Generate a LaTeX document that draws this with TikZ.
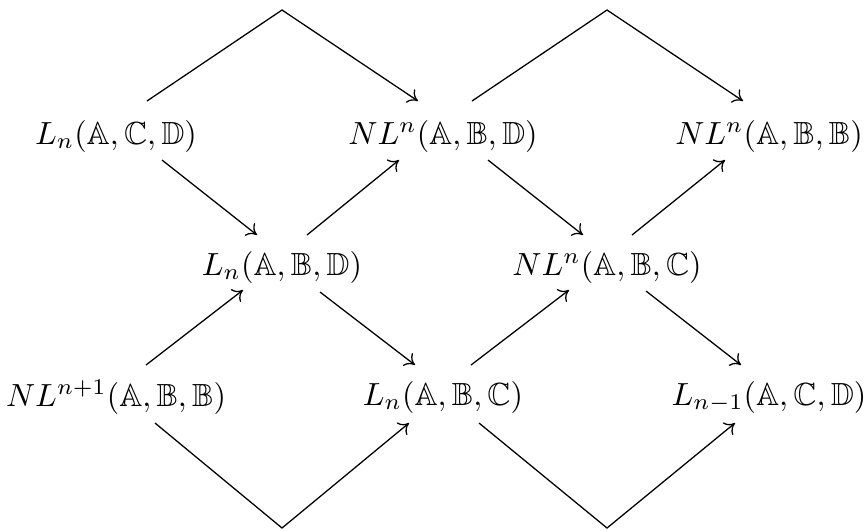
\documentclass[tikz,border=0pt]{standalone}
\usepackage{amssymb}
\usetikzlibrary{arrows.meta,calc}
\begin{document}
\begin{tikzpicture}[x=0.3125pt,y=-0.3125pt,
  obj/.style={inner sep=3pt},
  link/.style={line width=0.4pt,-{Computer Modern Rightarrow[length=3pt,width=5pt]}}]
\useasboundingbox (0,0) rectangle (866,530);
\node[obj] (a) at (116,136) {$L_n(\mathbb{A},\mathbb{C},\mathbb{D})$};
\node[obj] (b) at (443,136) {$NL^n(\mathbb{A},\mathbb{B},\mathbb{D})$};
\node[obj] (c) at (769,136) {$NL^n(\mathbb{A},\mathbb{B},\mathbb{B})$};
\node[obj] (d) at (282,267) {$L_n(\mathbb{A},\mathbb{B},\mathbb{D})$};
\node[obj] (e) at (607,267) {$NL^n(\mathbb{A},\mathbb{B},\mathbb{C})$};
\node[obj] (f) at (116,397) {$NL^{n+1}(\mathbb{A},\mathbb{B},\mathbb{B})$};
\node[obj] (g) at (443,397) {$L_n(\mathbb{A},\mathbb{B},\mathbb{C})$};
\node[obj] (h) at (769,397) {$L_{n-1}(\mathbb{A},\mathbb{C},\mathbb{D})$};
\coordinate (t1) at (282,10);
\coordinate (t2) at (607,10);
\coordinate (u1) at (282,528);
\coordinate (u2) at (607,528);
% diagonals
\draw[link] ($(a.center)+(46,24)$) -- ($(d.center)+(-25,-32)$);
\draw[link] ($(d.center)+(25,-32)$) -- ($(b.center)+(-44,24)$);
\draw[link] ($(f.center)+(30,-32)$) -- ($(d.center)+(-39,23)$);
\draw[link] ($(d.center)+(38,25)$) -- ($(g.center)+(-28,-32)$);
\draw[link] ($(b.center)+(45,24)$) -- ($(e.center)+(-24,-32)$);
\draw[link] ($(e.center)+(25,-32)$) -- ($(c.center)+(-44,24)$);
\draw[link] ($(g.center)+(28,-32)$) -- ($(e.center)+(-38,23)$);
\draw[link] ($(e.center)+(39,24)$) -- ($(h.center)+(-28,-32)$);
% arcs
\draw[link] ($(a.center)+(31,-35)$) -- (t1) -- ($(b.center)+(-25,-35)$);
\draw[link] ($(b.center)+(29,-35)$) -- (t2) -- ($(c.center)+(-26,-35)$);
\draw[link] ($(f.center)+(39,26)$) -- (u1) -- ($(g.center)+(-34,26)$);
\draw[link] ($(g.center)+(36,26)$) -- (u2) -- ($(h.center)+(-34,26)$);
\end{tikzpicture}
\end{document}
